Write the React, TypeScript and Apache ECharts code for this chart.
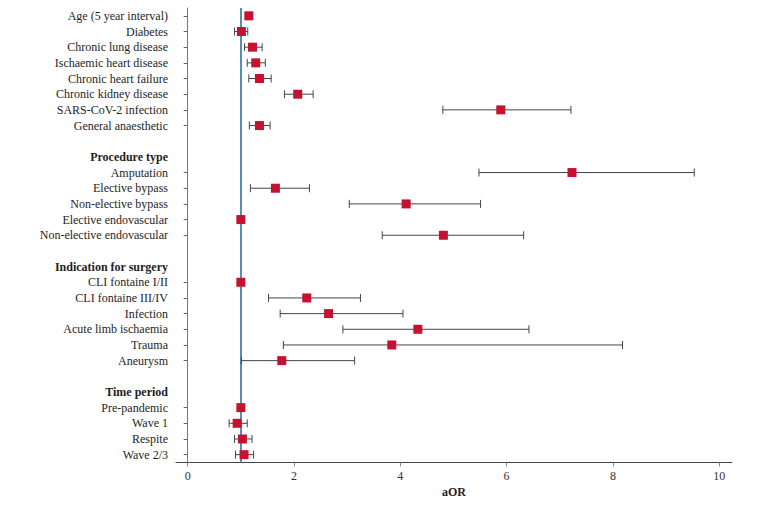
import React, { useEffect, useRef } from "react";
import * as echarts from "echarts";

const labels = [
  "Age (5 year interval)",
  "Diabetes",
  "Chronic lung disease",
  "Ischaemic heart disease",
  "Chronic heart failure",
  "Chronic kidney disease",
  "SARS-CoV-2 infection",
  "General anaesthetic",
  " ",
  "Procedure type",
  "Amputation",
  "Elective bypass",
  "Non-elective bypass",
  "Elective endovascular",
  "Non-elective endovascular",
  "  ",
  "Indication for surgery",
  "CLI fontaine I/II",
  "CLI fontaine III/IV",
  "Infection",
  "Acute limb ischaemia",
  "Trauma",
  "Aneurysm",
  "   ",
  "Time period",
  "Pre-pandemic",
  "Wave 1",
  "Respite",
  "Wave 2/3",
];

const headerRows = [9, 16, 24];
const blankRows = [8, 15, 23];

const estimates: (number | null)[] = [
  1.15, 1.01, 1.22, 1.28, 1.35, 2.07, 5.89, 1.35, null,
  null, 7.23, 1.65, 4.11, 1.0, 4.81, null,
  null, 1.0, 2.24, 2.65, 4.33, 3.84, 1.77, null,
  null, 1.0, 0.93, 1.03, 1.06,
];

const lower: (number | null)[] = [
  1.12, 0.88, 1.07, 1.12, 1.15, 1.82, 4.8, 1.16, null,
  null, 5.48, 1.18, 3.04, null, 3.66, null,
  null, null, 1.52, 1.74, 2.92, 1.8, 1.01, null,
  null, null, 0.78, 0.88, 0.9,
];

const upper: (number | null)[] = [
  1.19, 1.13, 1.4, 1.46, 1.57, 2.36, 7.21, 1.55, null,
  null, 9.53, 2.29, 5.51, null, 6.32, null,
  null, null, 3.25, 4.05, 6.42, 8.18, 3.14, null,
  null, null, 1.12, 1.21, 1.24,
];

const xTicks = [0, 2, 4, 6, 8, 10];
const referenceValue = 1;

const FONT = "Liberation Serif";

export default function App() {
  const ref = useRef<HTMLDivElement>(null);

  useEffect(() => {
    if (!ref.current) return;
    document.body.style.margin = "0";
    const chart = echarts.init(ref.current, null, { renderer: "svg" });

    const pointData: any[] = [];
    estimates.forEach((v, i) => {
      if (v !== null) pointData.push([v, i]);
    });
    const ciData: any[] = [];
    lower.forEach((lo, i) => {
      const hi = upper[i];
      if (lo !== null && hi !== null) ciData.push([lo, i, hi]);
    });

    chart.setOption({
      animation: false,
      backgroundColor: "#ffffff",
      grid: { left: 176, right: 38, top: 8, bottom: 42.5, containLabel: false },
      xAxis: {
        type: "value",
        min: -0.22,
        max: 10.24,
        name: "aOR",
        nameLocation: "middle",
        nameGap: 23,
        nameTextStyle: {
          fontFamily: FONT,
          fontSize: 12,
          fontWeight: "bold",
          color: "#222",
        },
        axisLine: { show: true, lineStyle: { color: "#444", width: 1 } },
        axisTick: {
          show: true,
          customValues: xTicks,
          length: 4,
          lineStyle: { color: "#888" },
        },
        axisLabel: {
          customValues: xTicks,
          fontFamily: FONT,
          fontSize: 12,
          color: "#333",
          margin: 7,
        },
        splitLine: { show: false },
      },
      yAxis: {
        type: "category",
        data: labels,
        inverse: true,
        boundaryGap: true,
        axisLine: { show: true, lineStyle: { color: "#777", width: 1 } },
        axisTick: {
          show: true,
          alignWithLabel: true,
          length: 4,
          interval: (idx: number) =>
            !headerRows.includes(idx) && !blankRows.includes(idx),
          lineStyle: { color: "#666" },
        },
        axisLabel: {
          interval: 0,
          margin: 8,
          fontFamily: FONT,
          fontSize: 12,
          color: "#1e1e1e",
          formatter: (value: string, idx: number) =>
            headerRows.includes(idx) ? `{b|${value}}` : value,
          rich: {
            b: {
              fontFamily: FONT,
              fontSize: 12,
              fontWeight: "bold",
              color: "#1e1e1e",
            },
          },
        },
        splitLine: { show: false },
      },
      series: [
        {
          type: "custom",
          z: 2,
          data: ciData,
          renderItem: (params: any, api: any) => {
            const lo = api.coord([api.value(0), api.value(1)]);
            const hi = api.coord([api.value(2), api.value(1)]);
            const h = 4;
            const style = { stroke: "#444", lineWidth: 1 };
            return {
              type: "group",
              children: [
                { type: "line", shape: { x1: lo[0], y1: lo[1], x2: hi[0], y2: hi[1] }, style },
                { type: "line", shape: { x1: lo[0], y1: lo[1] - h, x2: lo[0], y2: lo[1] + h }, style },
                { type: "line", shape: { x1: hi[0], y1: hi[1] - h, x2: hi[0], y2: hi[1] + h }, style },
              ],
            };
          },
        },
        {
          type: "scatter",
          z: 3,
          symbol: "rect",
          symbolSize: 9,
          itemStyle: { color: "#c41230", opacity: 1 },
          data: pointData,
          markLine: {
            silent: true,
            symbol: ["none", "none"],
            label: { show: false },
            z: 1,
            lineStyle: { color: "#4680b2", width: 1.8, type: "solid" },
            data: [{ xAxis: referenceValue }],
          },
        },
      ],
    });

    return () => chart.dispose();
  }, []);

  return <div ref={ref} style={{ width: 770, height: 505 }} />;
}
